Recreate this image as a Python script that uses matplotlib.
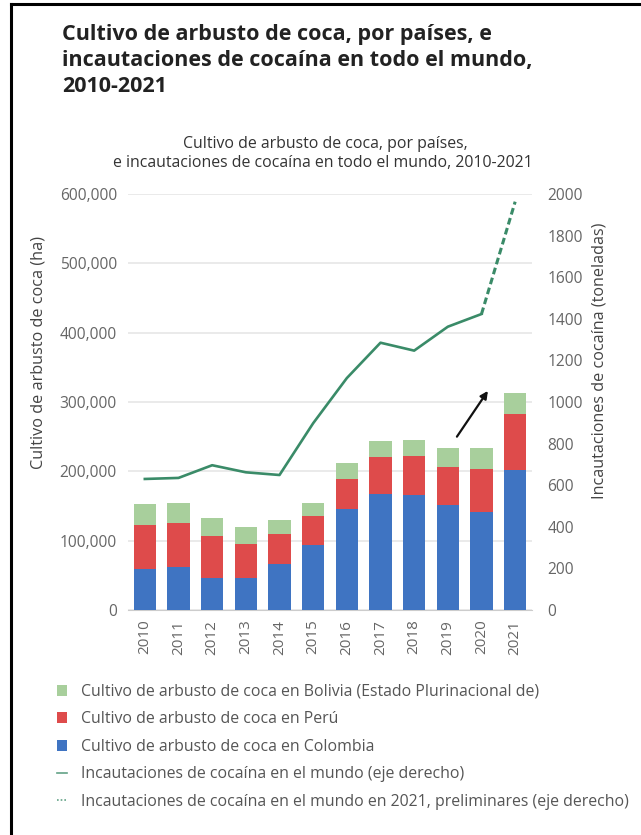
import matplotlib
matplotlib.use("Agg")
import matplotlib.pyplot as plt
import numpy as np
from matplotlib.lines import Line2D
from matplotlib.patches import Patch

plt.rcParams['font.family'] = ['Open Sans', 'DejaVu Sans']

# ---- data ----
years = ['2010', '2011', '2012', '2013', '2014', '2015', '2016', '2017', '2018', '2019', '2020', '2021']
colombia = [59000, 62500, 46000, 46000, 67000, 94000, 145000, 168000, 166000, 151000, 141000, 202000]
peru = [63000, 63500, 61000, 49000, 43000, 41000, 43500, 52000, 56000, 55000, 63000, 80000]
bolivia = [31000, 28000, 25500, 24000, 20000, 20000, 23500, 24000, 23000, 27000, 29000, 30500]
seizures = [630, 635, 696, 662, 649, 898, 1115, 1285, 1247, 1362, 1423, 1963]  # last value preliminary

left_ticks = [0, 100000, 200000, 300000, 400000, 500000, 600000]
right_ticks = [0, 200, 400, 600, 800, 1000, 1200, 1400, 1600, 1800, 2000]

labels = ['Cultivo de arbusto de coca en Bolivia (Estado Plurinacional de)',
          'Cultivo de arbusto de coca en Perú',
          'Cultivo de arbusto de coca en Colombia',
          'Incautaciones de cocaína en el mundo (eje derecho)',
          'Incautaciones de cocaína en el mundo en 2021, preliminares (eje derecho)']

title_lines = ['Cultivo de arbusto de coca, por países, e',
               'incautaciones de cocaína en todo el mundo,',
               '2010-2021']
sub_lines = ['Cultivo de arbusto de coca, por países,',
             'e incautaciones de cocaína en todo el mundo, 2010-2021']

C_BOL = '#a8cf9c'
C_PER = '#de4b4b'
C_COL = '#3f74c2'
C_LINE = '#3a8b68'
GRID = '#e6e6e6'
TICKC = '#666666'

W, H = 641, 835
fig = plt.figure(figsize=(W / 100, H / 100), dpi=100)
fig.patch.set_facecolor('white')

def fx(px):
    return px / W

def fy(py):
    return 1 - py / H

renderer = fig.canvas.get_renderer()

def fit_text(x, y, s, target_w, base_size, **kw):
    t = fig.text(x, y, s, fontsize=base_size, **kw)
    w = t.get_window_extent(renderer).width
    t.set_fontsize(base_size * target_w / w)
    return t

# ---- axes ----
ax_l, ax_r, ax_t, ax_b = 128, 532, 194, 610
ax = fig.add_axes([fx(ax_l), fy(ax_b), fx(ax_r - ax_l), (ax_b - ax_t) / H])
x = np.arange(len(years))
bw = 0.67
col_a = np.array(colombia)
per_a = np.array(peru)
bol_a = np.array(bolivia)
b_col = ax.bar(x, col_a, bw, color=C_COL, zorder=3)
b_per = ax.bar(x, per_a, bw, bottom=col_a, color=C_PER, zorder=3)
b_bol = ax.bar(x, bol_a, bw, bottom=col_a + per_a, color=C_BOL, zorder=3)
ax.set_xlim(-0.5, len(years) - 0.5)
ax.set_ylim(0, 600000)
ax.set_yticks(left_ticks)
ax.set_yticklabels([f'{v:,}' for v in left_ticks])
ax.set_xticks(x)
ax.set_xticklabels(years, rotation=90)
ax.grid(axis='y', color=GRID, linewidth=1.2, zorder=0)
for s in ['top', 'right', 'left']:
    ax.spines[s].set_visible(False)
ax.spines['bottom'].set_color('#cccccc')
ax.tick_params(axis='y', length=0, pad=8, labelsize=11.2, labelcolor=TICKC)
ax.tick_params(axis='x', length=0, pad=7, labelsize=11, labelcolor=TICKC)

ax2 = ax.twinx()
ax2.set_ylim(0, 2000)
ax2.set_yticks(right_ticks)
ax2.tick_params(axis='y', length=0, pad=11, labelsize=11.2, labelcolor=TICKC)
for s in ['top', 'right', 'left', 'bottom']:
    ax2.spines[s].set_visible(False)
ln_solid, = ax2.plot(x[:-1], seizures[:-1], color=C_LINE, linewidth=1.9, zorder=4)
ln_dash, = ax2.plot(x[-2:], seizures[-2:], color=C_LINE, linewidth=2.2,
                    linestyle=(0, (2.2, 1.2)), zorder=4)

# arrow
ax.annotate('', xy=(10.19, 316000), xytext=(9.27, 250000),
            arrowprops=dict(arrowstyle='-|>', color='#111111', lw=1.6,
                            mutation_scale=11, shrinkA=0, shrinkB=0), zorder=5)

# axis labels
fig.text(fx(39), fy(352), 'Cultivo de arbusto de coca (ha)', rotation=90,
         ha='center', va='center', fontsize=11.7, color='#444444')
fig.text(fx(600), fy(361), 'Incautaciones de cocaína (toneladas)', rotation=90,
         ha='center', va='center', fontsize=11.6, color='#444444')

# titles
t1 = fit_text(fx(62), fy(40), title_lines[0], 425, 13, fontweight='bold',
              color='#222222', va='baseline', ha='left')
tsize = t1.get_fontsize()
fig.text(fx(62), fy(66), title_lines[1], fontsize=tsize, fontweight='bold',
         color='#222222', va='baseline', ha='left')
fig.text(fx(62), fy(92), title_lines[2], fontsize=tsize, fontweight='bold',
         color='#222222', va='baseline', ha='left')

s2 = fit_text(fx(323), fy(167), sub_lines[1], 420, 10, color='#333333',
              va='baseline', ha='center')
fig.text(fx(325), fy(148), sub_lines[0], fontsize=s2.get_fontsize(),
         color='#333333', va='baseline', ha='center')

# legend
h_bol = Patch(facecolor=C_BOL, edgecolor='none')
h_per = Patch(facecolor=C_PER, edgecolor='none')
h_col = Patch(facecolor=C_COL, edgecolor='none')
h_ln = Line2D([], [], color=C_LINE, linewidth=1.2, alpha=0.8)
h_dash = Line2D([], [], color=C_LINE, linewidth=1.2, linestyle=(0, (1, 1.2)), alpha=0.8)
leg = fig.legend([h_bol, h_per, h_col, h_ln, h_dash], labels,
                 loc='upper left', bbox_to_anchor=(fx(57), fy(684)),
                 frameon=False, fontsize=11.4, labelcolor='#555555',
                 handlelength=0.62, handleheight=0.7, handletextpad=0.9,
                 labelspacing=0.72, borderpad=0, borderaxespad=0)

# frame lines
fig.add_artist(Line2D([fx(11), fx(11)], [0, fy(4)], color='black', linewidth=2.2))
fig.add_artist(Line2D([fx(11), 1], [fy(4), fy(4)], color='black', linewidth=2.2))

fig.savefig('out.png', dpi=100)
